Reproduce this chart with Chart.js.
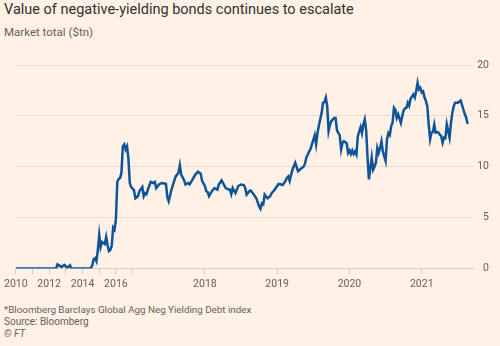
<!DOCTYPE html>
<html>
<head>
<meta charset="utf-8">
<script src="https://cdn.jsdelivr.net/npm/chart.js@4.4.0/dist/chart.umd.min.js"></script>
<style>
  html, body { margin: 0; padding: 0; background: #fff1e5; }
  #wrap { position: relative; width: 500px; height: 346px; overflow: hidden; font-family: Roboto, sans-serif; }
  .txt { position: absolute; left: 4px; white-space: nowrap; }
  #title { top: 1px; font-size: 14.5px; color: #33302e; }
  #sub { top: 25px; font-size: 11.5px; color: #66605c; }
  #note { top: 304px; font-size: 9.8px; color: #66605c; }
  #src { top: 316px; font-size: 10px; color: #66605c; }
  #ft { top: 328px; font-size: 10px; color: #66605c; font-style: italic; }
  #box { position: absolute; left: 0; top: 0; width: 500px; height: 295px; }
</style>
</head>
<body>
<div id="wrap">
  <div class="txt" id="title">Value of negative-yielding bonds continues to escalate</div>
  <div class="txt" id="sub">Market total ($tn)</div>
  <div id="box"><canvas id="myChart"></canvas></div>
  <div class="txt" id="note">*Bloomberg Barclays Global Agg Neg Yielding Debt index</div>
  <div class="txt" id="src">Source: Bloomberg</div>
  <div class="txt" id="ft">© FT</div>
</div>
<script>
// monthly points up to end-2016 (index 0-83), weekly points after (index 84+)
var idx = [0, 29, 30, 33, 35, 37, 39, 40, 54, 55, 56, 57, 58, 59, 60, 61, 62, 63, 64, 65, 66, 67, 68, 69, 70, 71, 72,
    73, 74, 75, 76, 77, 78, 79, 80, 81, 82, 83,
    85, 86, 87, 88, 89, 91, 92, 93, 94, 95, 97, 99, 100, 101, 103, 105, 107, 108, 109, 110, 112, 113, 115, 117, 118,
    119, 121, 122, 124, 125, 127, 129, 131, 133, 134, 136, 137, 138, 139, 141, 142, 143, 145, 146, 148, 149, 151, 153,
    154, 155, 156, 158, 160, 162, 164, 165, 166, 168, 169, 171, 173, 174, 175, 176, 177, 178, 179, 181, 183, 184, 186,
    187, 189, 191, 192, 194, 195, 196, 197, 198, 199, 201, 203, 205, 207, 208, 209, 211, 212, 214, 215, 216, 217, 218,
    220, 221, 222, 223, 224, 225, 226, 227, 229, 230, 231, 232, 233, 234, 235, 236, 238, 239, 240, 241, 242, 243, 244,
    245, 246, 248, 249, 250, 251, 252, 253, 254, 256, 257, 258, 259, 260, 261, 262, 263, 264, 266, 267, 268, 269, 270,
    271, 272, 273, 274, 275, 277, 278, 279, 280, 281, 282, 283, 284, 285, 286, 287, 288, 289, 290, 291, 292, 293, 294,
    295, 296, 297, 298, 299, 300, 301, 302, 303, 304, 305, 306, 307, 308, 309, 310, 311, 312, 313, 314, 315, 316, 317,
    318, 319, 320, 322, 323, 324, 325, 326, 327, 328];
var total = [0, 0, 0.4, 0.15, 0.35, 0.05, 0.3, 0, 0, 0.3, 0.9, 1.0, 0.7, 1.8, 3.3, 2.1, 2.6, 2.5, 2.4, 3.1, 2.3, 1.7, 1.8, 2.2, 4.0, 3.8, 4.8,
    8.5, 8.8, 8.9, 9.4, 12.0, 12.2, 11.7, 12.0, 10.8, 8.4, 8.0,
    7.7, 6.9, 7.0, 7.15, 7.6, 8.0, 7.1, 7.4, 7.3, 7.75, 8.5, 8.4, 8.5, 7.9, 8.25, 8.4, 8.35, 8.3, 7.0, 6.6, 7.75, 8.2, 9.05, 9.4, 10.15,
    9.2, 8.7, 8.25, 8.4, 8.25, 8.7, 9.2, 9.5, 9.3, 8.6, 8.1, 7.6, 7.5, 7.1, 7.6, 7.75, 7.9, 7.75, 8.25, 8.65, 8.4, 7.9, 7.75,
    7.75, 7.3, 7.9, 7.4, 8.1, 8.25, 8.2, 7.9, 7.25, 7.6, 7.65, 7.3, 6.9, 6.5, 6.1, 5.85, 6.4, 6.3, 7.25, 6.9, 7.1, 7.4, 7.7, 7.9,
    8.3, 8.25, 8.2, 8.6, 8.9, 9.05, 8.6, 9.2, 9.7, 10.4, 9.55, 9.8, 10.0, 10.3, 10.9, 11.5, 11.75, 12.65, 13.1, 12.2, 13.3, 14.05,
    15.3, 16.3, 16.35, 16.8, 15.95, 13.5, 14.15, 14.5, 14.8, 14.8, 13.6, 13.3, 13.1, 11.7, 12.35, 12.5, 12.3, 11.35,
    11.6, 11.25, 11.6, 11.25, 11.5, 11.2, 13.0, 13.9, 13.3, 14.15, 14.65, 13.6, 10.9, 8.75, 10.9, 9.7, 10.0, 10.4, 11.85, 11.35,
    11.85, 12.5, 11.5, 10.55, 12.7, 13.3, 13.1, 14.0, 14.3, 15.8, 15.6, 14.8, 15.15, 14.3, 15.0, 15.55, 15.75, 15.8, 16.3,
    16.0, 16.7, 16.9, 17.1, 16.8, 17.45, 18.25, 17.6, 17.75, 17.3, 17.4, 16.8, 16.45, 15.95, 14.15, 12.7, 13.35, 13.4,
    14.15, 13.35, 13.4, 13.35, 13.15, 13.0, 12.35, 12.85, 12.8, 14.15, 13.5, 12.85, 14.3, 15.3, 15.95, 16.3, 16.3, 16.3,
    16.4, 16.5, 15.6, 15.15, 14.8, 14.2];

var tickIdx = [0, 12, 24, 36, 48, 60, 72, 84, 136, 188, 240, 292];
var tickLabels = ['2010', '', '2012', '', '2014', '', '2016', '', '2018', '2019', '2020', '2021'];

var points = [];
for (var i = 0; i < idx.length; i++) {
    points.push({ x: idx[i], y: total[i] });
}

Chart.defaults.font.family = 'Roboto, sans-serif';
Chart.defaults.font.size = 10.5;
Chart.defaults.color = '#66605c';

window.onload = function() {
    var ctx = document.getElementById('myChart').getContext('2d');
    window.myLine = new Chart(ctx, {
        type: 'line',
        data: {
            datasets: [{
                data: points,
                borderColor: '#0f5499',
                borderWidth: 2.5,
                pointRadius: 0,
                tension: 0,
                fill: false
            }]
        },
        options: {
            responsive: true,
            maintainAspectRatio: false,
            animation: false,
            layout: { padding: { left: 15, right: 11, top: 65, bottom: 0 } },
            plugins: { legend: { display: false }, tooltip: { enabled: false } },
            scales: {
                x: {
                    type: 'linear',
                    min: 0,
                    max: 329,
                    afterBuildTicks: function(axis) {
                        axis.ticks = tickIdx.map(function(v) { return { value: v }; });
                    },
                    ticks: {
                        autoSkip: false,
                        maxRotation: 0,
                        padding: 4,
                        callback: function(value) {
                            var k = tickIdx.indexOf(value);
                            return k >= 0 ? tickLabels[k] : '';
                        }
                    },
                    grid: { drawOnChartArea: false, drawTicks: true, tickLength: 6, color: '#d9cdc3' },
                    border: { color: '#d9cdc3' }
                },
                y: {
                    position: 'right',
                    min: 0,
                    max: 20,
                    ticks: { stepSize: 5, padding: 2, crossAlign: 'far' },
                    grid: { color: '#eadccf', drawTicks: false },
                    border: { display: false }
                }
            }
        }
    });
};
</script>
</body>
</html>
